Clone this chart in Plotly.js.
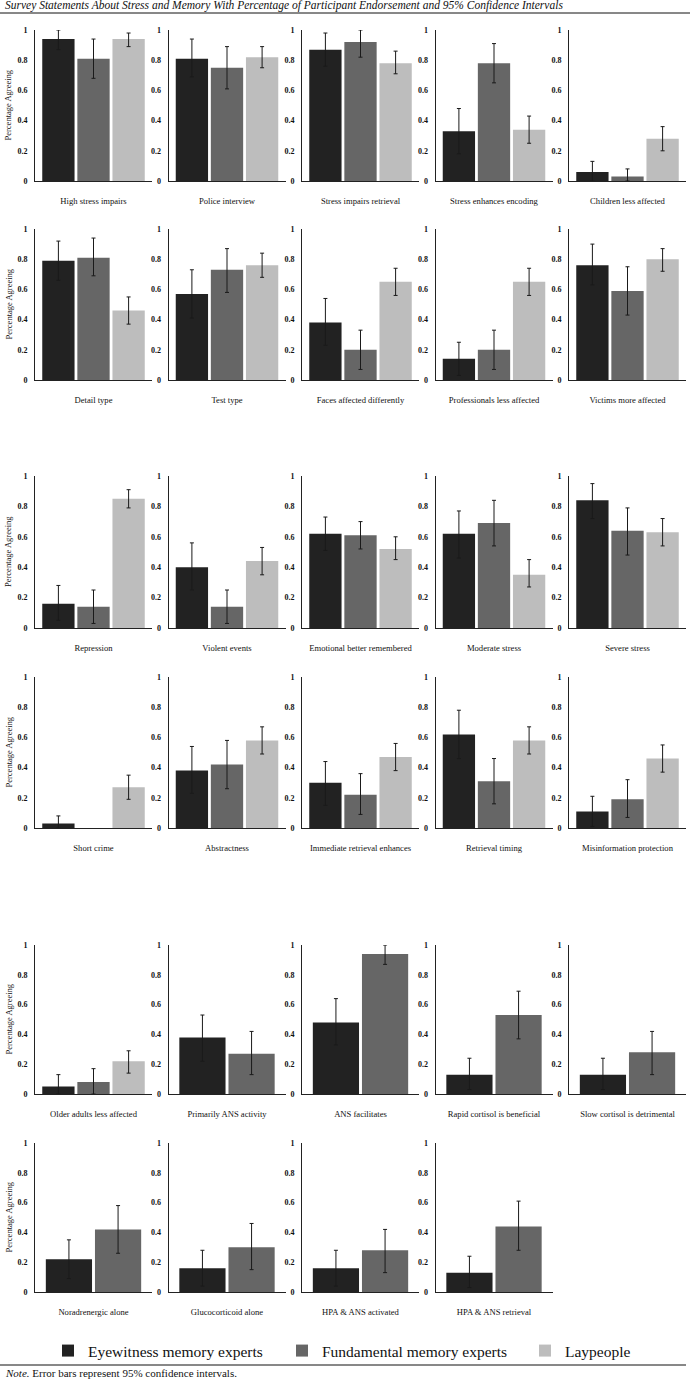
<!DOCTYPE html>
<html>
<head>
<meta charset="utf-8">
<script src="https://cdn.plot.ly/plotly-3.0.1.min.js"></script>
<style>html,body{margin:0;padding:0;background:#fff;}#chart{width:690px;height:1380px;}</style>
</head>
<body>
<div id="chart"></div>
<script>
const statements = [
  "High stress impairs","Police interview","Stress impairs retrieval","Stress enhances encoding","Children less affected",
  "Detail type","Test type","Faces affected differently","Professionals less affected","Victims more affected",
  "Repression","Violent events","Emotional better remembered","Moderate stress","Severe stress",
  "Short crime","Abstractness","Immediate retrieval enhances","Retrieval timing","Misinformation protection",
  "Older adults less affected","Primarily ANS activity","ANS facilitates","Rapid cortisol is beneficial","Slow cortisol is detrimental",
  "Noradrenergic alone","Glucocorticoid alone","HPA & ANS activated","HPA & ANS retrieval"
];
const groupNames = ["Eyewitness memory experts","Fundamental memory experts","Laypeople"];

const eyewitness   = [0.94,0.81,0.87,0.33,0.06, 0.79,0.57,0.38,0.14,0.76, 0.16,0.40,0.62,0.62,0.84, 0.03,0.38,0.30,0.62,0.11, 0.05,0.38,0.48,0.13,0.13, 0.22,0.16,0.16,0.13];
const eyewitnessLo = [0.87,0.69,0.76,0.18,0.00, 0.66,0.41,0.23,0.03,0.63, 0.05,0.25,0.51,0.46,0.72, 0.00,0.23,0.15,0.46,0.01, 0.00,0.22,0.33,0.03,0.03, 0.09,0.04,0.04,0.03];
const eyewitnessHi = [1.00,0.94,0.98,0.48,0.13, 0.92,0.73,0.54,0.25,0.90, 0.28,0.56,0.73,0.77,0.95, 0.08,0.54,0.44,0.78,0.21, 0.13,0.53,0.64,0.24,0.24, 0.35,0.28,0.28,0.24];

const fundamental   = [0.81,0.75,0.92,0.78,0.03, 0.81,0.73,0.20,0.20,0.59, 0.14,0.14,0.61,0.69,0.64, 0.00,0.42,0.22,0.31,0.19, 0.08,0.27,0.94,0.53,0.28, 0.42,0.30,0.28,0.44];
const fundamentalLo = [0.68,0.61,0.82,0.65,0.00, 0.69,0.58,0.07,0.07,0.43, 0.03,0.03,0.52,0.54,0.48, 0.00,0.26,0.09,0.16,0.07, 0.00,0.13,0.87,0.37,0.13, 0.26,0.15,0.13,0.28];
const fundamentalHi = [0.94,0.89,1.00,0.91,0.08, 0.94,0.87,0.33,0.33,0.75, 0.25,0.25,0.70,0.84,0.79, 0.00,0.58,0.36,0.46,0.32, 0.17,0.42,1.00,0.69,0.42, 0.58,0.46,0.42,0.61];

const laypeople   = [0.94,0.82,0.78,0.34,0.28, 0.46,0.76,0.65,0.65,0.80, 0.85,0.44,0.52,0.35,0.63, 0.27,0.58,0.47,0.58,0.46, 0.22, null,null,null,null, null,null,null,null];
const laypeopleLo = [0.89,0.75,0.71,0.25,0.20, 0.37,0.68,0.56,0.56,0.72, 0.79,0.35,0.45,0.27,0.54, 0.19,0.49,0.38,0.49,0.37, 0.14, null,null,null,null, null,null,null,null];
const laypeopleHi = [0.98,0.89,0.86,0.43,0.36, 0.55,0.84,0.74,0.74,0.87, 0.91,0.53,0.60,0.45,0.72, 0.35,0.67,0.56,0.67,0.55, 0.29, null,null,null,null, null,null,null,null];

const yTicks = [0,0.2,0.4,0.6,0.8,1];
const yTickText = ["0","0.2","0.4","0.6","0.8","1"];

// ---- styling / geometry ----
const W = 690, H = 1380;
const colors = ["#222222","#666666","#bdbdbd"];
const colLeft = [35,168.5,302,435.5,569];
const colWidth = 117;
const rowTopBottom = [[30,181],[229,380],[476,628],[677,828],[945,1094],[1143,1292]];
const serif = "Liberation Serif";
const legendIds = ["legend","legend2","legend3"];
const legendTextX = [88, 322, 565];

const series = [
  [eyewitness, eyewitnessLo, eyewitnessHi],
  [fundamental, fundamentalLo, fundamentalHi],
  [laypeople, laypeopleLo, laypeopleHi]
];

const traces = [];
const layout = {
  width: W, height: H,
  margin: {l:0,r:0,t:0,b:0},
  paper_bgcolor: "#fff", plot_bgcolor: "#fff",
  font: {family: serif},
  barmode: "overlay",
  showlegend: true,
  annotations: [],
  shapes: []
};
legendIds.forEach((id, g) => {
  layout[id] = {
    orientation: "h", x: (legendTextX[g] - 40)/W, xanchor: "left",
    y: 1 - 1351/H, yanchor: "middle",
    font: {family: serif, size: 15.5, color: "#111"},
    bgcolor: "rgba(0,0,0,0)", borderwidth: 0,
    itemwidth: 30, itemclick: false
  };
});

statements.forEach((st, i) => {
  const k = i + 1;
  const xa = "x" + (k > 1 ? k : "");
  const ya = "y" + (k > 1 ? k : "");
  const row = Math.floor(i / 5), col = i % 5;
  const present = series.map(s => s[0][i] !== null);
  const n = present.filter(Boolean).length;
  const span = n === 3 ? 0.9 : 0.84;
  const slot = span / n;
  const bw = slot * (n === 3 ? 0.92 : 0.94);
  let idx = 0;
  series.forEach((s, g) => {
    if (!present[g]) return;
    const v = s[0][i], lo = s[1][i], hi = s[2][i];
    const hasErr = !(lo === v && hi === v);
    traces.push({
      type: "bar",
      x: [st], y: [v],
      name: groupNames[g],
      legendgroup: groupNames[g],
      legend: legendIds[g],
      showlegend: i === 0,
      xaxis: xa, yaxis: ya,
      offset: -span/2 + idx*slot + (slot - bw)/2,
      width: bw,
      marker: {color: colors[g], line: {width: 0}},
      error_y: hasErr ? {type: "data", symmetric: false, array: [hi - v], arrayminus: [v - lo],
        color: "#1a1a1a", thickness: 1, width: 2} : {visible: false},
      hoverinfo: "skip"
    });
    idx++;
  });
  const [top, bot] = rowTopBottom[row];
  const xKey = "xaxis" + (k > 1 ? k : "");
  const yKey = "yaxis" + (k > 1 ? k : "");
  layout[xKey] = {
    domain: [colLeft[col]/W, (colLeft[col] + colWidth)/W],
    anchor: ya, type: "category", range: [-0.5, 0.5],
    showline: true, linecolor: "#222", linewidth: 1,
    showgrid: false, zeroline: false, ticks: "",
    tickfont: {family: serif, size: 8.6, color: "#111"},
    ticklabelstandoff: 12, fixedrange: true
  };
  layout[yKey] = {
    domain: [1 - bot/H, 1 - top/H],
    anchor: xa, range: [0, 1],
    tickvals: yTicks, ticktext: yTickText,
    showline: true, linecolor: "#222", linewidth: 1,
    showgrid: false, zeroline: false, ticks: "",
    tickfont: {family: serif, size: 8, color: "#111", weight: "bold"},
    ticklabelstandoff: 5, fixedrange: true
  };
  if (col === 0) {
    layout.annotations.push({
      text: "Percentage Agreeing", xref: "paper", yref: "paper",
      x: 8/W, y: 1 - ((top + bot)/2)/H, xanchor: "center", yanchor: "middle",
      textangle: -90, showarrow: false,
      font: {family: serif, size: 8.5, color: "#111"}
    });
  }
});

layout.annotations.push({
  text: "<i>Survey Statements About Stress and Memory With Percentage of Participant Endorsement and 95% Confidence Intervals</i>",
  xref: "paper", yref: "paper", x: 3/W, y: 1 - 6/H, xanchor: "left", yanchor: "middle",
  showarrow: false, font: {family: serif, size: 11.5, color: "#111"}
});
layout.annotations.push({
  text: "<i>Note.</i> Error bars represent 95% confidence intervals.",
  xref: "paper", yref: "paper", x: 3/W, y: 1 - 1373/H, xanchor: "left", yanchor: "middle",
  showarrow: false, font: {family: serif, size: 11, color: "#111"}
});
layout.shapes.push({type: "line", xref: "paper", yref: "paper", x0: 0, x1: 1, y0: 1 - 13/H, y1: 1 - 13/H, line: {color: "#111", width: 1}});
layout.shapes.push({type: "line", xref: "paper", yref: "paper", x0: 0, x1: 686/W, y0: 1 - 1365/H, y1: 1 - 1365/H, line: {color: "#111", width: 1}});

Plotly.newPlot("chart", traces, layout, {staticPlot: true, displayModeBar: false});
</script>
</body>
</html>
